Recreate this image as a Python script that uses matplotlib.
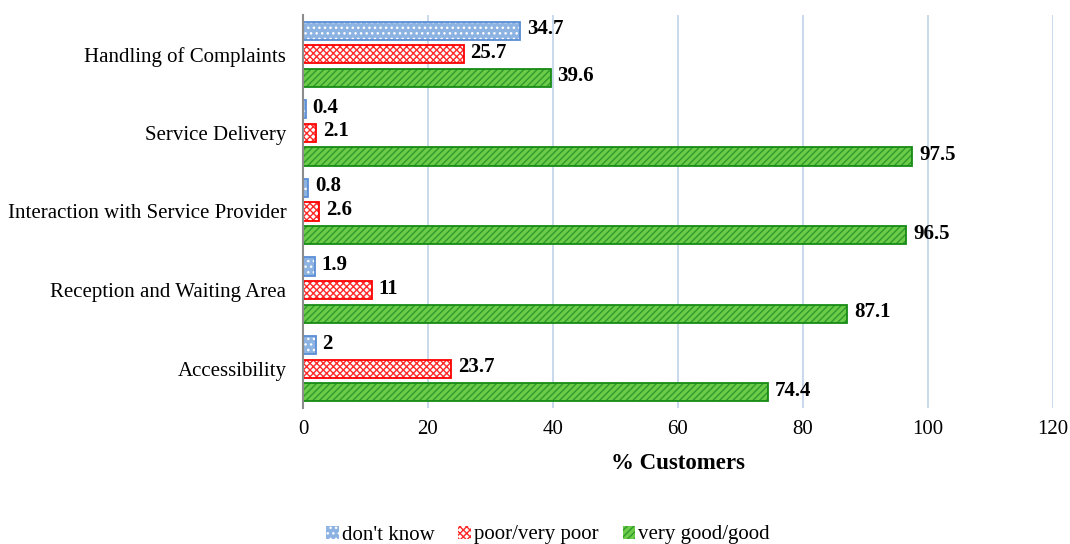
import matplotlib.pyplot as plt
import numpy as np

plt.rcParams['font.family'] = ['Liberation Serif', 'DejaVu Serif']
plt.rcParams['hatch.linewidth'] = 1.0

categories = ['Accessibility', 'Reception and Waiting Area',
              'Interaction with Service Provider', 'Service Delivery',
              'Handling of Complaints']
dont_know = [2, 1.9, 0.8, 0.4, 34.7]
poor = [23.7, 11, 2.6, 2.1, 25.7]
good = [74.4, 87.1, 96.5, 97.5, 39.6]
series_names = ["don't know", 'poor/very poor', 'very good/good']

fig = plt.figure(figsize=(10.7, 5.44), dpi=100)
ax = fig.add_axes([303 / 1070, 136 / 544, 750 / 1070, 393 / 544])

y = np.arange(len(categories))
step = 0.3
h = 0.23

# (face, hatch colour, hatch, outline)
styles = [
    ('#8DB3E2', 'white', '...', '#5B8ED6'),
    ('white', '#FF2A2A', 'xxxxx', '#FF0000'),
    ('#6CCB47', '#2E9A2E', '/////', '#168A16'),
]
handles = []
for k, (vals, name, st) in enumerate(zip([dont_know, poor, good], series_names, styles)):
    face, hcol, hatch, edge = st
    pos = y + (1 - k) * step
    ax.barh(pos, vals, height=h, color=face, edgecolor=hcol, hatch=hatch,
            linewidth=0, zorder=2)
    ax.barh(pos, vals, height=h, fill=False, edgecolor=edge, linewidth=1.3, zorder=3)
    for p, v in zip(pos, vals):
        ax.text(v + 1.1, p + 0.02, f'{v:g}', va='center', ha='left', fontsize=15,
                fontweight='bold', zorder=4)
    handles.append(plt.Rectangle((0, 0), 1, 1, facecolor=face, edgecolor=hcol,
                                 hatch=hatch, linewidth=0))

ax.set_xlim(0, 120)
ax.set_ylim(-0.5, len(categories) - 0.5)
ax.set_xticks(np.arange(0, 121, 20))
ax.set_yticks(y)
ax.set_yticklabels(categories, fontsize=15)
ax.tick_params(axis='both', length=0, labelsize=15)
ax.tick_params(axis='x', pad=9)
ax.tick_params(axis='y', pad=12)
ax.xaxis.grid(True, color='#C6D5EA', linewidth=1.3, zorder=0)
ax.set_axisbelow(True)
for s in ['top', 'right', 'bottom']:
    ax.spines[s].set_visible(False)
ax.spines['left'].set_color('#8C8C8C')
ax.spines['left'].set_linewidth(1.5)
ax.spines['left'].set_zorder(5)

ax.set_xlabel('% Customers', fontsize=16.5, fontweight='bold', labelpad=10)

fig.legend(handles, series_names, loc='center', bbox_to_anchor=(548 / 1070, 1 - 535 / 544),
           ncol=3, frameon=False, fontsize=15, handlelength=0.6, handleheight=0.6,
           handletextpad=0.15, columnspacing=1.15)

fig.savefig('out.png', dpi=100)
